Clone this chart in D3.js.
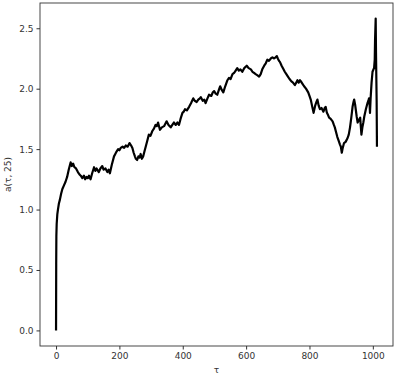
<!DOCTYPE html>
<html><head><meta charset="utf-8">
<script src="https://cdn.jsdelivr.net/npm/d3@7"></script>
<style>body{margin:0;background:#fff}svg{display:block}text{font-family:"DejaVu Sans",sans-serif}</style>
</head><body><svg id="c" width="398" height="378"></svg>
<script>
const tau = [0,0.5,1,2,4,6,9,12,16,20,25,30,35,40,46,50,54,58,63,69,74,78,83,88,92,96,100,104,109,114,120,124,128,135,140,146,150,156,162,166,170,176,183,187,191,196,200,204,210,215,220,226,232,237,241,245,249,252,256,260,264,267,271,275,279,283,288,293,298,304,309,314,318,322,325,328,334,341,345,349,355,362,367,372,378,383,388,393,399,403,407,413,420,426,433,438,444,449,454,457,463,468,472,478,483,490,495,499,504,509,514,518,523,528,534,541,546,551,557,562,567,572,577,582,588,594,602,608,615,620,625,630,636,641,646,651,657,662,667,672,678,683,688,693,697,700,704,707,712,718,722,727,732,737,743,748,754,758,762,766,770,773,778,783,789,796,800,804,808,813,818,822,825,829,833,838,844,848,851,855,859,862,867,873,877,880,884,888,892,896,899,902,905,909,914,920,924,928,932,936,939,941,944,946,949,952,956,960,962,964,967,970,973,978,983,986,988,990,991,993,996,999,1002,1004,1006,1007,1009,1010,1012,1013];
const aVal = [0,0.55,0.78,0.88,0.96,1.0,1.05,1.08,1.13,1.17,1.20,1.23,1.27,1.33,1.39,1.36,1.38,1.35,1.34,1.31,1.29,1.28,1.26,1.28,1.25,1.27,1.26,1.28,1.25,1.30,1.35,1.32,1.34,1.31,1.34,1.36,1.33,1.34,1.31,1.33,1.30,1.37,1.44,1.46,1.48,1.50,1.49,1.51,1.52,1.51,1.53,1.52,1.55,1.53,1.51,1.47,1.44,1.42,1.41,1.44,1.43,1.46,1.42,1.44,1.48,1.52,1.57,1.62,1.61,1.65,1.67,1.70,1.69,1.72,1.69,1.66,1.68,1.69,1.71,1.73,1.70,1.68,1.70,1.72,1.70,1.72,1.70,1.75,1.80,1.81,1.83,1.82,1.85,1.88,1.92,1.90,1.89,1.91,1.92,1.93,1.90,1.91,1.88,1.92,1.95,1.94,1.97,1.98,1.96,1.95,1.99,2.02,1.99,1.97,2.02,2.07,2.09,2.08,2.12,2.13,2.15,2.17,2.15,2.16,2.14,2.17,2.19,2.17,2.16,2.14,2.13,2.12,2.11,2.10,2.12,2.16,2.19,2.21,2.24,2.23,2.25,2.26,2.25,2.26,2.27,2.25,2.23,2.22,2.19,2.16,2.14,2.12,2.10,2.08,2.06,2.05,2.03,2.05,2.07,2.05,2.07,2.06,2.04,2.02,2.00,1.97,1.94,1.91,1.86,1.80,1.86,1.89,1.91,1.86,1.83,1.84,1.81,1.84,1.85,1.80,1.78,1.76,1.75,1.73,1.70,1.68,1.64,1.60,1.57,1.54,1.52,1.47,1.51,1.55,1.56,1.59,1.62,1.68,1.76,1.85,1.89,1.91,1.87,1.83,1.77,1.72,1.74,1.76,1.69,1.62,1.68,1.72,1.77,1.83,1.88,1.90,1.92,1.86,1.80,1.92,2.05,2.14,2.16,2.17,2.24,2.40,2.58,2.30,1.90,1.52];
const xTicks = [0,200,400,600,800,1000];
const yTicks = [0.0,0.5,1.0,1.5,2.0,2.5];
const xLabel = "τ", yLabel = "a(τ, 25)";

const svg = d3.select("#c");
const L=40,R=393,T=3,B=346;
const x = d3.scaleLinear().domain([-50.65,1063.65]).range([L,R]);
const y = d3.scaleLinear().domain([-0.129,2.709]).range([B,T]);
const data = tau.map((t,i)=>[t,aVal[i]]);

svg.append("path").datum(data)
  .attr("fill","none").attr("stroke","#000").attr("stroke-width",2.2).attr("stroke-linejoin","round")
  .attr("d", d3.line().x(d=>x(d[0])).y(d=>y(d[1])));

const gx = svg.append("g").attr("transform",`translate(0,${B})`)
  .call(d3.axisBottom(x).tickValues(xTicks).tickFormat(d3.format("d")).tickSize(3.5).tickPadding(3));
const gy = svg.append("g").attr("transform",`translate(${L},0)`)
  .call(d3.axisLeft(y).tickValues(yTicks).tickFormat(d3.format(".1f")).tickSize(3.5).tickPadding(3));
[gx,gy].forEach(g=>{g.select(".domain").remove();g.selectAll("text").attr("font-size",9).attr("fill","#333").attr("font-family","DejaVu Sans");g.selectAll("line").attr("stroke","#333");});

svg.append("rect").attr("x",L).attr("y",T).attr("width",R-L).attr("height",B-T)
  .attr("fill","none").attr("stroke","#333").attr("stroke-width",0.9);

svg.append("text").attr("x",(L+R)/2).attr("y",373).attr("text-anchor","middle").attr("font-size",9).attr("fill","#333").text(xLabel);
svg.append("text").attr("transform",`translate(11,${(T+B)/2}) rotate(-90)`).attr("text-anchor","middle").attr("font-size",9).attr("fill","#333").text(yLabel);
</script></body></html>
